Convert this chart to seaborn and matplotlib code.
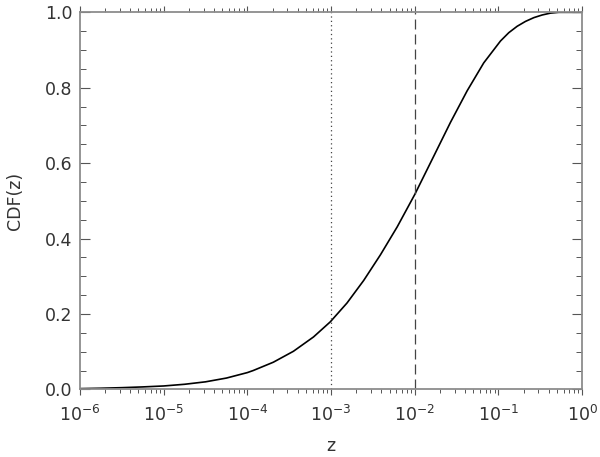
import numpy as np
import pandas as pd
import matplotlib
matplotlib.use("Agg")
import matplotlib.pyplot as plt
import seaborn as sns
from matplotlib.ticker import FixedLocator, LogLocator, MultipleLocator, NullFormatter, FormatStrFormatter, LogFormatterSciNotation

# values (x as log10 z)
log_z = [-6.0, -5.75, -5.5, -5.25, -5.0, -4.75, -4.5, -4.25, -4.0, -3.93,
         -3.69, -3.45, -3.21, -3.01, -2.81, -2.61, -2.41, -2.21, -2.0, -1.77,
         -1.574, -1.374, -1.176, -0.976, -0.877, -0.777, -0.677, -0.577, -0.478,
         -0.378, -0.28, -0.18, 0.0]
cdf = [0.002, 0.003, 0.0045, 0.0065, 0.009, 0.0135, 0.020, 0.030, 0.0445, 0.050,
       0.072, 0.101, 0.139, 0.179, 0.229, 0.289, 0.357, 0.431, 0.517, 0.620,
       0.708, 0.792, 0.866, 0.924, 0.946, 0.963, 0.976, 0.986, 0.993,
       0.998, 1.0, 1.0, 1.0]

# vertical reference lines
ref_z = [1e-3, 1e-2]
x_ticks = [1e-6, 1e-5, 1e-4, 1e-3, 1e-2, 1e-1, 1e0]

df = pd.DataFrame({"z": 10.0 ** np.array(log_z), "cdf": cdf})

sns.set_theme(style="ticks")
plt.rcParams['font.family'] = ['DejaVu Sans']
plt.rcParams['mathtext.default'] = 'regular'

fig = plt.figure(figsize=(6, 4.57), dpi=100)
ax = fig.add_axes([0.1333, 0.148, 0.837, 0.825])

sns.lineplot(data=df, x="z", y="cdf", color="black", lw=1.2, ax=ax)
ax.axvline(ref_z[0], ls=(0, (1, 2.5)), color="#444444", lw=0.9)
ax.axvline(ref_z[1], ls=(0, (8, 4)), color="#444444", lw=0.9)

ax.set_xscale("log")
ax.set_xlim(1e-6, 1)
ax.set_ylim(0, 1)

ax.xaxis.set_major_locator(FixedLocator(x_ticks))
ax.xaxis.set_major_formatter(LogFormatterSciNotation())
ax.xaxis.set_minor_locator(LogLocator(base=10, subs=np.arange(2, 10), numticks=10))
ax.xaxis.set_minor_formatter(NullFormatter())
ax.yaxis.set_major_locator(MultipleLocator(0.2))
ax.yaxis.set_minor_locator(MultipleLocator(0.05))
ax.yaxis.set_major_formatter(FormatStrFormatter("%.1f"))

ax.tick_params(axis="x", which="both", direction="out", top=True, bottom=True,
               color="#555555", labelsize=12.5, labelcolor="#333333", pad=7)
ax.tick_params(axis="x", which="major", length=4.5, width=0.8)
ax.tick_params(axis="x", which="minor", length=3, width=0.7)
ax.tick_params(axis="y", which="both", direction="in", left=True, right=True,
               color="#555555", labelsize=12.5, labelcolor="#333333", pad=5.5)
ax.tick_params(axis="y", which="major", length=7.2, width=0.8)
ax.tick_params(axis="y", which="minor", length=4.3, width=0.7)

for s in ax.spines.values():
    s.set_color("#8c8c8c")
    s.set_linewidth(1.3)

ax.set_xlabel("z", fontsize=12.5, color="#333333")
ax.set_ylabel("CDF(z)", fontsize=12.5, color="#333333")
ax.xaxis.label.set_verticalalignment("baseline")
ax.xaxis.set_label_coords(0.5, -0.163)
ax.yaxis.set_label_coords(-0.112, 0.5)

fig.canvas.draw()
ylabels = ax.get_yticklabels()
ylabels[0].set_verticalalignment("bottom")
ylabels[-1].set_verticalalignment("top")

fig.savefig("out.png", dpi=100)
